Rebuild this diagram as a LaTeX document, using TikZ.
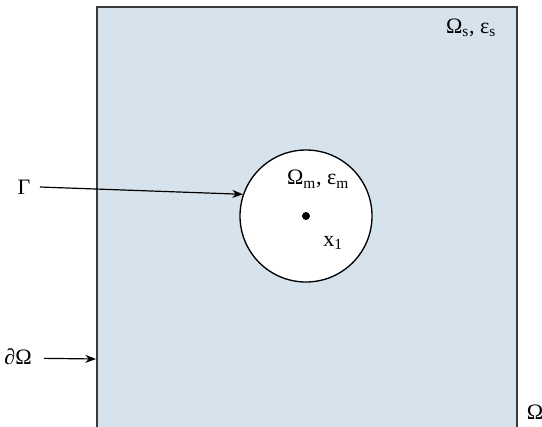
\documentclass[tikz,border=0pt]{standalone}
\usepackage{fontspec}
\setmainfont{Liberation Serif}
\usetikzlibrary{arrows.meta}
\definecolor{domfill}{HTML}{D7E3EC}
\definecolor{domline}{HTML}{3A3A3A}
\tikzset{
  lbl/.style={inner sep=0pt, font=\fontsize{16.5}{19}\selectfont},
  arr/.style={-{Stealth[length=8pt,width=6pt]}, line width=0.9pt},
}
\begin{document}
\begin{tikzpicture}[x=0.75pt,y=-0.75pt]
\useasboundingbox (0,0) rectangle (542,426);
\clip (0,0) rectangle (542,426);
\fill[domfill] (97,7) rectangle (517,430);
\draw[domline, line width=1.3pt] (97,430) -- (97,7) -- (517,7) -- (517,430);
\coordinate (leftedge) at (96,359);
\node[circle, draw=black, fill=white, line width=1pt, minimum size=132*0.75pt, inner sep=0pt] (circ) at (306,216) {};
\fill (306,216) circle (4*0.75pt);
\node[lbl] (oms) at (471,28) {Ω\textsubscript{s}, ε\textsubscript{s}};
\node[lbl] (omm) at (318,179) {Ω\textsubscript{m}, ε\textsubscript{m}};
\node[lbl] (x1) at (333,243) {x\textsubscript{1}};
\node[lbl] (gam) at (24,187) {Γ};
\node[lbl] (dom) at (18,357) {∂Ω};
\node[lbl] (om) at (535,412) {Ω};
\draw[arr] ([xshift=7pt]gam.east) -- (circ.161);
\draw[arr] ([xshift=9pt,yshift=-1pt]dom.east) -- (leftedge);
\end{tikzpicture}
\end{document}
